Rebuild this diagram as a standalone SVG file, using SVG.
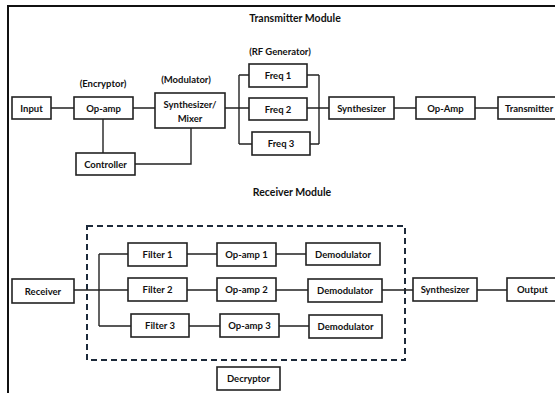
<svg xmlns="http://www.w3.org/2000/svg" width="555" height="393" viewBox="0 0 555 393">
<style>
.b{fill:#fff;stroke:#222;stroke-width:1.6}
.t{font-family:Lato,"Open Sans",sans-serif;font-weight:bold;font-size:9.5px;fill:#111;text-anchor:middle;dominant-baseline:central}
.h{font-family:Lato,"Open Sans",sans-serif;font-weight:bold;font-size:10.5px;fill:#111;text-anchor:middle;dominant-baseline:central}
.c{fill:none;stroke:#222;stroke-width:1.4}
</style>
<rect width="555" height="393" fill="#fff"/>
<path d="M8 393V6H555" fill="none" stroke="#111" stroke-width="2"/>
<text class="h" x="295" y="18">Transmitter Module</text>
<text class="t" x="280" y="51">(RF Generator)</text>
<text class="t" x="103" y="83">(Encryptor)</text>
<text class="t" x="186" y="79">(Modulator)</text>
<text class="h" x="292" y="192">Receiver Module</text>
<rect x="87" y="226" width="318" height="134" fill="none" stroke="#1d2a3a" stroke-width="2" stroke-dasharray="6,4"/>
<g id="connectors" class="c">
<path d="M51 108H74M133 108H155M103 119V153M135 164H191V128M225 108H249M239 75V144M239 75H249M239 144H252M307 75H319M307 108H329M310 144H319M319 75V144M394 108H416M475 108H498"/>
<path d="M74 290H128M99 254V326M99 254H128M99 326H131M187 254H217M276 254H306M187 290H217M276 290H308M189 326H220M279 326H309M382 290H413M477 290H507"/>
</g>
<g id="input"><rect class="b" x="12" y="97" width="39" height="22"/><text class="t" x="31.5" y="108">Input</text></g>
<g id="opamp"><rect class="b" x="74" y="97" width="59" height="22"/><text class="t" x="103.5" y="108">Op-amp</text></g>
<g id="controller"><rect class="b" x="76" y="153" width="59" height="22"/><text class="t" x="105.5" y="164">Controller</text></g>
<g id="mixer"><rect class="b" x="155" y="93" width="70" height="35"/><text class="t" x="190" y="104">Synthesizer/</text><text class="t" x="190" y="118">Mixer</text></g>
<g id="freq1"><rect class="b" x="249" y="64" width="58" height="23"/><text class="t" x="278" y="75.5">Freq 1</text></g>
<g id="freq2"><rect class="b" x="249" y="98" width="58" height="22"/><text class="t" x="278" y="109">Freq 2</text></g>
<g id="freq3"><rect class="b" x="252" y="132" width="58" height="23"/><text class="t" x="281" y="143.5">Freq 3</text></g>
<g id="synth-tx"><rect class="b" x="329" y="97" width="65" height="22"/><text class="t" x="361.5" y="108">Synthesizer</text></g>
<g id="opamp-tx"><rect class="b" x="416" y="97" width="59" height="22"/><text class="t" x="445.5" y="108">Op-Amp</text></g>
<g id="transmitter"><rect class="b" x="498" y="97" width="70" height="22"/><text class="t" x="498" y="108" style="text-anchor:start" dx="7">Transmitter</text></g>
<g id="receiver"><rect class="b" x="12" y="279" width="62" height="24"/><text class="t" x="43" y="291">Receiver</text></g>
<g id="filter1"><rect class="b" x="128" y="243" width="59" height="23"/><text class="t" x="157.5" y="254.5">Filter 1</text></g>
<g id="filter2"><rect class="b" x="128" y="278" width="59" height="23"/><text class="t" x="157.5" y="289.5">Filter 2</text></g>
<g id="filter3"><rect class="b" x="131" y="314" width="58" height="23"/><text class="t" x="160" y="325.5">Filter 3</text></g>
<g id="opamp1"><rect class="b" x="217" y="243" width="59" height="23"/><text class="t" x="246.5" y="254.5">Op-amp 1</text></g>
<g id="opamp2"><rect class="b" x="217" y="278" width="59" height="23"/><text class="t" x="246.5" y="289.5">Op-amp 2</text></g>
<g id="opamp3"><rect class="b" x="220" y="314" width="59" height="23"/><text class="t" x="249.5" y="325.5">Op-amp 3</text></g>
<g id="demod1"><rect class="b" x="306" y="243" width="74" height="22"/><text class="t" x="343" y="254">Demodulator</text></g>
<g id="demod2"><rect class="b" x="308" y="279" width="74" height="23"/><text class="t" x="345" y="290.5">Demodulator</text></g>
<g id="demod3"><rect class="b" x="309" y="315" width="73" height="23"/><text class="t" x="345.5" y="326.5">Demodulator</text></g>
<g id="synth-rx"><rect class="b" x="413" y="278" width="64" height="23"/><text class="t" x="445" y="289.5">Synthesizer</text></g>
<g id="output"><rect class="b" x="507" y="278" width="60" height="23"/><text class="t" x="507" y="289.5" style="text-anchor:start" dx="10">Output</text></g>
<g id="decryptor"><rect class="b" x="217" y="367" width="63" height="23"/><text class="t" x="248.5" y="378.5">Decryptor</text></g>
</svg>
